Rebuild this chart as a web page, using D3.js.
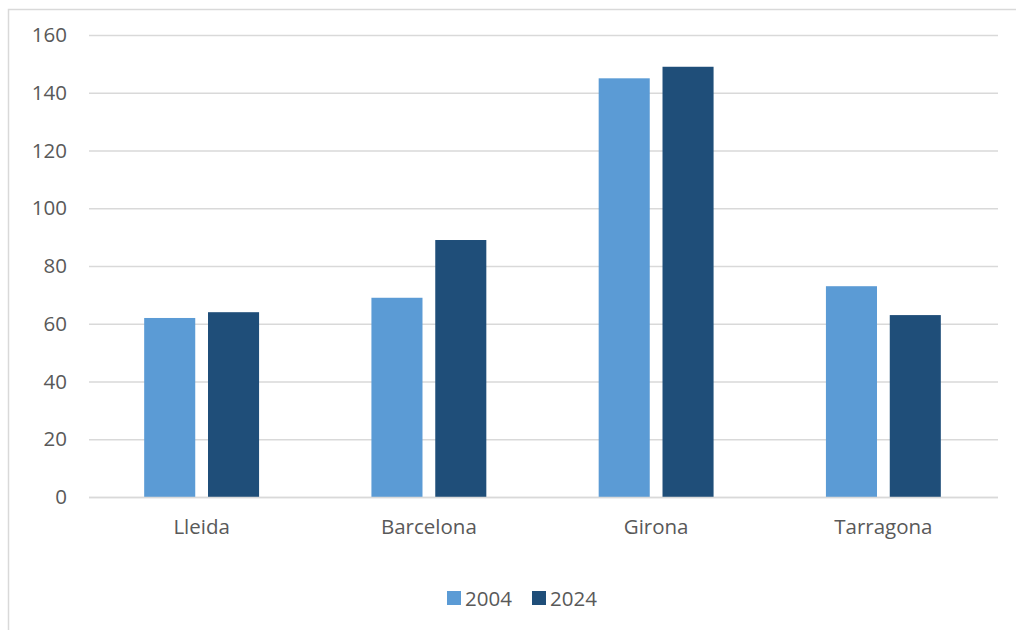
<!DOCTYPE html>
<html><head><meta charset="utf-8">
<script src="https://cdn.jsdelivr.net/npm/d3@7"></script>
<style>body{margin:0;background:#fff;} svg{display:block;}</style>
</head><body>
<svg id="chart" width="1016" height="630"></svg>
<script>
const categories = ["Lleida", "Barcelona", "Girona", "Tarragona"];
const seriesNames = ["2004", "2024"];
const values2004 = [62, 69, 145, 73];
const values2024 = [64, 89, 149, 63];
const yTicks = [0, 20, 40, 60, 80, 100, 120, 140, 160];
const colors = ["#5b9bd5", "#1f4e79"];

(function () {
const svg = d3.select("#chart");
const font = "'Open Sans', 'Noto Sans', sans-serif";
const fs = "20.5px";
svg.append("rect").attr("x", 8.5).attr("y", 9.5).attr("width", 1020).attr("height", 640)
  .attr("fill", "#fff").attr("stroke", "#d9d9d9").attr("stroke-width", 1.5);

const mLeft = 89, mRight = 998, mTop = 35, mBottom = 497;
const x = d3.scaleBand().domain(categories).range([mLeft - 1, mRight - 1]);
const y = d3.scaleLinear().domain([0, 160]).range([mBottom, mTop]);
const x1 = d3.scaleBand().domain(seriesNames).range([0, x.bandwidth()]).paddingInner(0.2).paddingOuter(0.88);

const yAxis = d3.axisLeft(y).tickValues(yTicks).tickSize(-(mRight - mLeft)).tickPadding(22);
const gy = svg.append("g").attr("transform", `translate(${mLeft},0)`).call(yAxis);
gy.select(".domain").remove();
gy.selectAll(".tick line").attr("stroke", "#d9d9d9").attr("stroke-width", 1.5);
gy.selectAll(".tick text").attr("fill", "#595959").style("font-family", font).style("font-size", fs);

const data = [values2004, values2024];
categories.forEach((c, i) => {
  seriesNames.forEach((s, j) => {
    svg.append("rect")
      .attr("x", x(c) + x1(s)).attr("y", y(data[j][i]))
      .attr("width", x1.bandwidth()).attr("height", y(0) - y(data[j][i]))
      .attr("fill", colors[j]);
  });
});

const xAxis = d3.axisBottom(x).tickSize(0).tickPadding(22);
const gx = svg.append("g").attr("transform", `translate(0,${mBottom})`).call(xAxis);
gx.select(".domain").attr("stroke", "#d9d9d9").attr("stroke-width", 1.5).attr("d", `M${mLeft},0.5H${mRight}`);
gx.selectAll(".tick text").attr("fill", "#595959").style("font-family", font).style("font-size", fs);

const legendX = [447, 532];
seriesNames.forEach((s, j) => {
  const g = svg.append("g").attr("transform", `translate(${legendX[j]},591)`);
  g.append("rect").attr("width", 14).attr("height", 14).attr("fill", colors[j]);
  g.append("text").attr("x", 18).attr("y", 15).text(s)
    .attr("fill", "#595959").style("font-family", font).style("font-size", fs);
});
})();
</script>
</body></html>
